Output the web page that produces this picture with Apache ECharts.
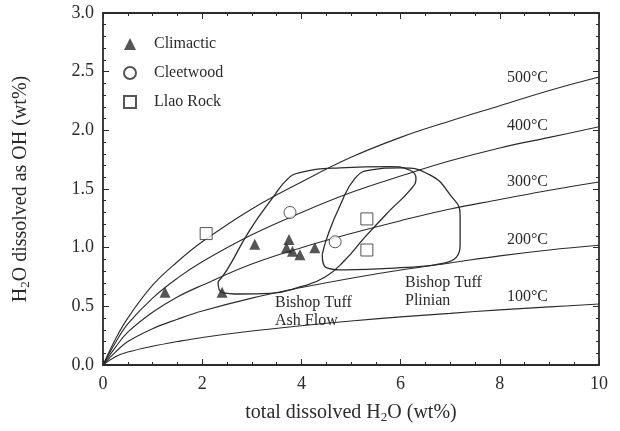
<!DOCTYPE html>
<html>
<head>
<meta charset="utf-8">
<script src="https://cdn.jsdelivr.net/npm/echarts@6/dist/echarts.min.js"></script>
<style>
  html, body { margin: 0; padding: 0; background: #fff; }
  #chart { width: 620px; height: 431px; }
</style>
</head>
<body>
<div id="chart"></div>
<script>
// isotherms: OH vs total water
var curve500 = [[0,0],[0.25,0.22],[0.5,0.4],[1,0.68],[1.5,0.88],[2,1.05],[3,1.33],[4,1.56],[5,1.77],[6,1.94],[7,2.08],[8,2.21],[9,2.34],[10,2.455]];
var curve400 = [[0,0],[0.25,0.19],[0.5,0.35],[1,0.57],[1.5,0.74],[2,0.88],[3,1.11],[4,1.30],[5,1.47],[6,1.61],[7,1.74],[8,1.85],[9,1.94],[10,2.03]];
var curve300 = [[0,0],[0.25,0.15],[0.5,0.28],[1,0.45],[1.5,0.58],[2,0.68],[3,0.86],[4,1.0],[5,1.12],[6,1.23],[7,1.33],[8,1.41],[9,1.49],[10,1.56]];
var curve200 = [[0,0],[0.25,0.11],[0.5,0.2],[1,0.31],[1.5,0.39],[2,0.46],[3,0.57],[4,0.66],[5,0.74],[6,0.81],[7,0.87],[8,0.93],[9,0.98],[10,1.02]];
var curve100 = [[0,0],[0.25,0.07],[0.5,0.11],[1,0.16],[1.5,0.2],[2,0.235],[3,0.29],[4,0.335],[5,0.375],[6,0.41],[7,0.44],[8,0.47],[9,0.495],[10,0.52]];
var curveNames = ['500°C', '400°C', '300°C', '200°C', '100°C'];

// Bishop Tuff outlines
var ashFlow = [[2.32,0.71],[2.40,0.62],[2.76,0.605],[3.37,0.61],[3.97,0.665],[4.48,0.75],[4.88,0.895],[5.28,1.09],[5.79,1.32],[6.19,1.49],[6.31,1.59],[6.19,1.66],[5.79,1.69],[4.78,1.68],[3.97,1.64],[3.71,1.58],[3.43,1.43],[2.96,1.15],[2.50,0.81],[2.32,0.71]];
var plinian = [[4.42,0.94],[4.5,0.83],[4.88,0.81],[5.99,0.83],[6.9,0.87],[7.2,1.02],[7.2,1.28],[7.0,1.45],[6.59,1.62],[5.99,1.68],[5.38,1.66],[5.08,1.59],[4.78,1.36],[4.52,1.09],[4.42,0.94]];

// samples
var climactic = [[1.25,0.62],[2.4,0.62],[3.06,1.03],[3.75,1.07],[3.7,1.0],[3.82,0.97],[3.97,0.94],[4.27,1.0]];
var cleetwood = [[3.77,1.30],[4.68,1.05]];
var llaoRock = [[2.08,1.12],[5.32,1.245],[5.32,0.98]];

var ink = '#2b2b2b';
var serif = '"Liberation Serif", "Times New Roman", serif';

var chart = echarts.init(document.getElementById('chart'));

function curveSeries(data) {
    return {
        type: 'line', data: data, smooth: 0.4, symbol: 'none', silent: true,
        lineStyle: { color: ink, width: 1.1 }, z: 2
    };
}
function outlineSeries(data) {
    return {
        type: 'line', data: data, smooth: 0.5, symbol: 'none', silent: true,
        lineStyle: { color: ink, width: 1.3 }, z: 2
    };
}
function curveLabel(text, cy) {
    return { type: 'text', x: 548, y: cy, style: { text: text, font: '16px ' + serif, fill: ink, align: 'right', verticalAlign: 'middle' } };
}

var tickStyle = { color: ink, width: 1 };
var subRich = { s: { fontFamily: serif, fontSize: 13, color: ink, verticalAlign: 'bottom', padding: [9, 0, 0, 0] } };
function frameAxis(extra) {
    var a = {
        type: 'value',
        axisLine: { onZero: false, lineStyle: { color: ink, width: 1.8 } },
        axisTick: { inside: true, length: 6, lineStyle: tickStyle },
        minorTick: { show: true, length: 3, lineStyle: tickStyle },
        splitLine: { show: false },
        axisLabel: { show: false }
    };
    for (var k in extra) a[k] = extra[k];
    return a;
}

var option = {
    animation: false,
    backgroundColor: '#fff',
    grid: { left: 103, right: 21, top: 13, bottom: 66 },
    legend: {
        left: 118, top: 31, orient: 'vertical', itemGap: 13,
        itemWidth: 12, itemHeight: 12,
        textStyle: { fontFamily: serif, fontSize: 16, lineHeight: 16, color: ink, padding: [0, 0, 0, 13] },
        data: ['Climactic', 'Cleetwood', 'Llao Rock']
    },
    xAxis: [
        frameAxis({
            min: 0, max: 10, interval: 2,
            minorTick: { show: true, splitNumber: 4, length: 3, lineStyle: tickStyle },
            axisLabel: { show: true, margin: 10, fontFamily: serif, fontSize: 18, color: ink },
            name: 'total dissolved H{s|2}O (wt%)', nameLocation: 'middle', nameGap: 37,
            nameTextStyle: { fontFamily: serif, fontSize: 20, color: ink, rich: subRich }
        }),
        frameAxis({
            min: 0, max: 10, interval: 2, position: 'top',
            minorTick: { show: true, splitNumber: 4, length: 3, lineStyle: tickStyle }
        })
    ],
    yAxis: [
        frameAxis({
            min: 0, max: 3, interval: 0.5,
            minorTick: { show: true, splitNumber: 5, length: 3, lineStyle: tickStyle },
            axisLabel: { show: true, margin: 9, fontFamily: serif, fontSize: 18, color: ink,
                padding: [5, 0, 0, 0],
                formatter: function (v) { return v.toFixed(1); } },
            name: 'H{s|2}O dissolved as OH (wt%)', nameLocation: 'middle', nameGap: 71, nameRotate: 90,
            nameTextStyle: { fontFamily: serif, fontSize: 20, color: ink, rich: subRich }
        }),
        frameAxis({
            min: 0, max: 3, interval: 0.5, position: 'right',
            minorTick: { show: true, splitNumber: 5, length: 3, lineStyle: tickStyle }
        })
    ],
    graphic: [
        curveLabel(curveNames[0], 78),
        curveLabel(curveNames[1], 126),
        curveLabel(curveNames[2], 182),
        curveLabel(curveNames[3], 240),
        curveLabel(curveNames[4], 297),
        { type: 'text', left: 275, top: 294, style: { text: 'Bishop Tuff\nAsh Flow', font: '16px ' + serif, fill: ink, lineHeight: 18 } },
        { type: 'text', left: 405, top: 274, style: { text: 'Bishop Tuff\nPlinian', font: '16px ' + serif, fill: ink, lineHeight: 18 } }
    ],
    series: [
        curveSeries(curve500), curveSeries(curve400), curveSeries(curve300),
        curveSeries(curve200), curveSeries(curve100),
        outlineSeries(ashFlow), outlineSeries(plinian),
        {
            name: 'Climactic', type: 'scatter', data: climactic, symbol: 'triangle', symbolSize: 11,
            itemStyle: { color: ink }, z: 5
        }, {
            name: 'Cleetwood', type: 'scatter', data: cleetwood, symbol: 'circle', symbolSize: 12,
            itemStyle: { color: '#fff', borderColor: ink, borderWidth: 1 }, z: 5
        }, {
            name: 'Llao Rock', type: 'scatter', data: llaoRock, symbol: 'rect', symbolSize: 12,
            itemStyle: { color: '#fff', borderColor: ink, borderWidth: 1 }, z: 5
        }
    ]
};
chart.setOption(option);
</script>
</body>
</html>
